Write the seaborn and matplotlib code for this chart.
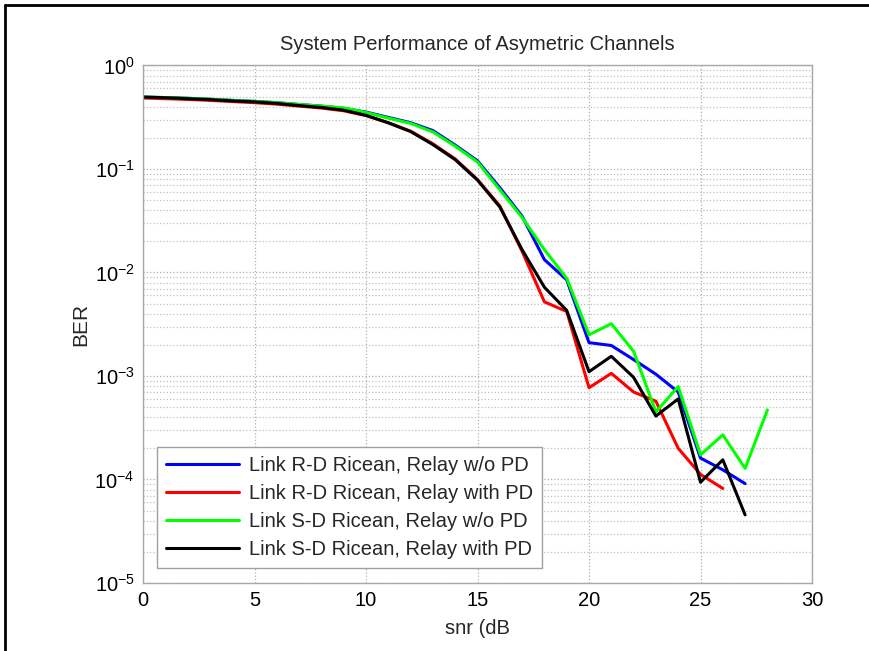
import numpy as np
import pandas as pd
import seaborn as sns
import matplotlib.pyplot as plt
from matplotlib.lines import Line2D
from matplotlib.ticker import LogLocator, FixedLocator

# --- data ---
snr = list(range(0, 29))

ber_rd_wo_pd = [0.495, 0.49, 0.482, 0.472, 0.46, 0.45, 0.437, 0.42, 0.405, 0.385,
                0.355, 0.315, 0.28, 0.235, 0.17, 0.12, 0.066, 0.035, 0.0133, 0.0085,
                0.0021, 0.00197, 0.00144, 0.00104, 0.00070, 0.000161, 0.000124, 0.0000912]
ber_rd_pd = [0.485, 0.478, 0.47, 0.46, 0.448, 0.437, 0.423, 0.405, 0.388, 0.365,
             0.328, 0.28, 0.232, 0.175, 0.125, 0.079, 0.044, 0.016, 0.0052, 0.0042,
             0.00077, 0.00106, 0.00070, 0.00057, 0.0002, 0.000112, 0.000082]
ber_sd_wo_pd = [0.495, 0.49, 0.482, 0.472, 0.46, 0.45, 0.437, 0.42, 0.405, 0.39,
                0.352, 0.31, 0.276, 0.228, 0.166, 0.117, 0.063, 0.034, 0.0166, 0.0088,
                0.0025, 0.0032, 0.00173, 0.00045, 0.00079, 0.000173, 0.00027, 0.000128, 0.00047]
ber_sd_pd = [0.495, 0.488, 0.478, 0.468, 0.455, 0.445, 0.43, 0.41, 0.393, 0.37,
             0.33, 0.279, 0.23, 0.172, 0.123, 0.078, 0.043, 0.0166, 0.0072, 0.0043,
             0.0011, 0.00155, 0.00097, 0.00041, 0.0006, 0.000094, 0.000155, 0.0000455]

labels = ['Link R-D Ricean, Relay w/o PD', 'Link R-D Ricean, Relay with PD',
          'Link S-D Ricean, Relay w/o PD', 'Link S-D Ricean, Relay with PD']
series = [ber_rd_wo_pd, ber_rd_pd, ber_sd_wo_pd, ber_sd_pd]
colors = ['#0000ff', '#ff0000', '#00ff00', '#000000']

sns.set_theme(style="white")
plt.rcParams['font.family'] = ['Liberation Sans', 'DejaVu Sans']
plt.rcParams['mathtext.default'] = 'regular'

fig = plt.figure(figsize=(8.69, 6.51), dpi=100)
ax = fig.add_axes([0.1646, 0.1045, 0.7698, 0.7949])

for lab, vals, col in zip(labels, series, colors):
    sns.lineplot(x=snr[:len(vals)], y=vals, ax=ax, color=col, linewidth=2.2, label=lab)

ax.set_yscale('log')
ax.set_xlim(0, 30)
ax.set_ylim(1e-5, 1)
ax.xaxis.set_major_locator(FixedLocator([0, 5, 10, 15, 20, 25, 30]))
ax.yaxis.set_major_locator(LogLocator(base=10, numticks=10))
ax.yaxis.set_minor_locator(LogLocator(base=10, subs=np.arange(2, 10), numticks=20))

ax.grid(True, which='major', color='#b0b0b0', linestyle=':', linewidth=0.9)
ax.grid(True, which='minor', axis='y', color='#c0c0c0', linestyle=':', linewidth=0.9)
ax.set_axisbelow(True)

for sp in ax.spines.values():
    sp.set_color('#a8a8a8')
    sp.set_linewidth(1.0)
ax.tick_params(axis='both', which='both', direction='in', colors='#a8a8a8',
               labelcolor='black', labelsize=14.5)
ax.tick_params(axis='y', which='minor', length=2)
ax.tick_params(axis='both', which='major', length=4, pad=6)

ax.set_title('System Performance of Asymetric Channels', fontsize=14.5, pad=11)
ax.set_xlabel('snr (dB', fontsize=14.5, labelpad=6)
ax.set_ylabel('BER', fontsize=15, labelpad=3)

leg = ax.legend(loc='lower left', bbox_to_anchor=(0.021, 0.029), borderaxespad=0,
                fontsize=14.5, frameon=True, fancybox=False, edgecolor='#a0a0a0',
                framealpha=1, handlelength=3.6, handletextpad=0.5,
                borderpad=0.45, labelspacing=0.45)
leg.get_frame().set_linewidth(1.0)

# screenshot frame at left and top
fig.add_artist(Line2D([0.006, 1.0], [0.992, 0.992], color='black', linewidth=2, transform=fig.transFigure))
fig.add_artist(Line2D([0.006, 0.006], [0.0, 0.992], color='black', linewidth=2, transform=fig.transFigure))

fig.savefig('out.png', dpi=100)
